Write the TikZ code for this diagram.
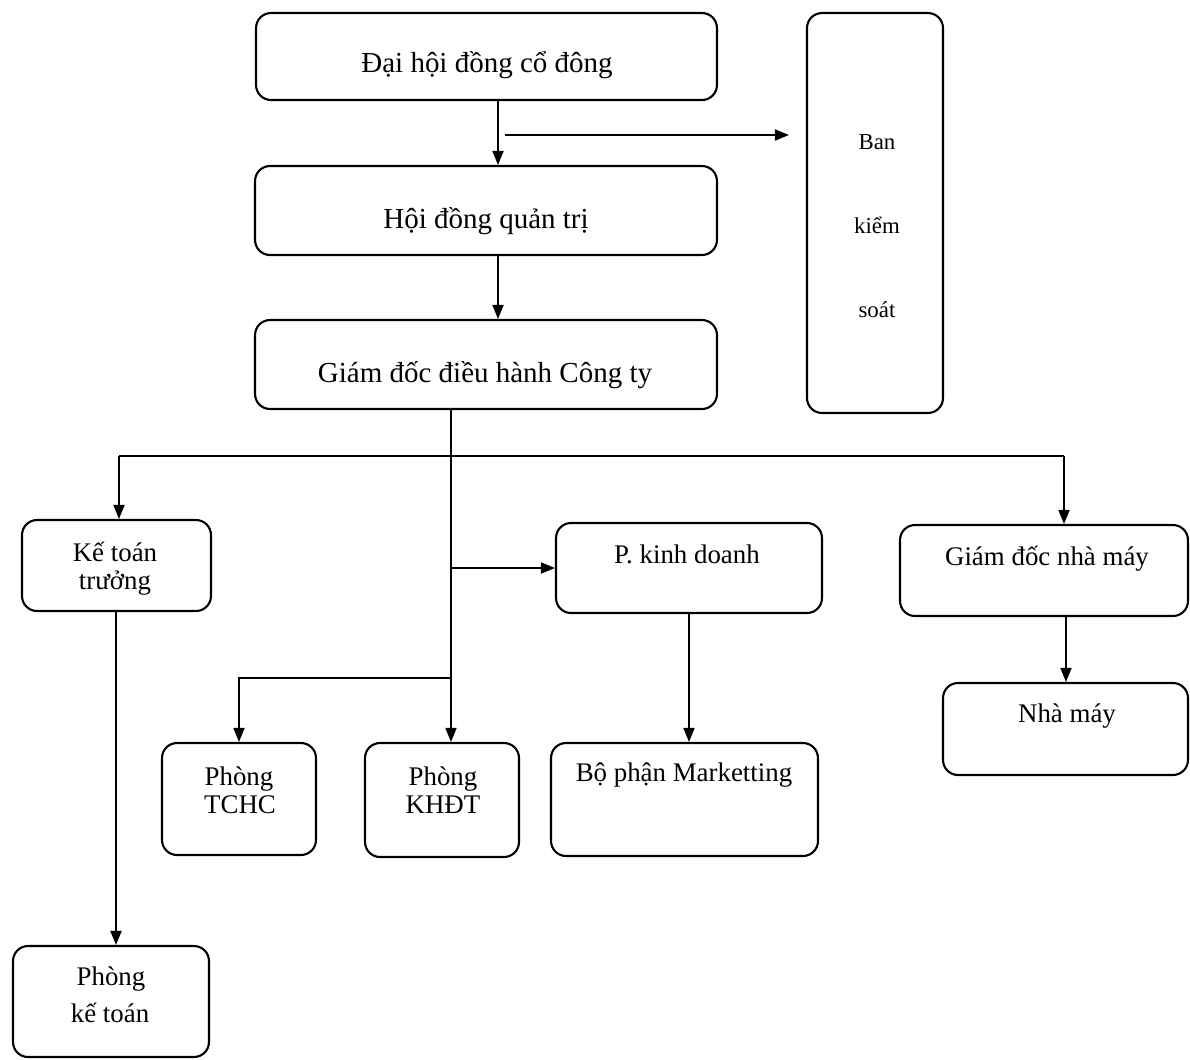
\documentclass[tikz,border=0pt]{standalone}
\usepackage{fontspec}
\setmainfont{Liberation Serif}
\usetikzlibrary{arrows.meta,calc}
\begin{document}
\begin{tikzpicture}[x=0.02cm,y=-0.02cm,
  box/.style={draw, line width=1.2pt, rounded corners=0.3cm, inner sep=0pt},
  arr/.style={line width=1pt, -{Triangle[length=0.28cm,width=0.22cm]}},
  ln/.style={line width=1pt},
  big/.style={anchor=base, inner sep=0pt, font=\fontsize{16.5}{19}\selectfont},
  mid/.style={anchor=base, inner sep=0pt, font=\fontsize{15.3}{18}\selectfont},
  sml/.style={anchor=base, inner sep=0pt, font=\fontsize{13}{15}\selectfont}]
\useasboundingbox (0,0) rectangle (1190,1059);

% boxes
\node[box, minimum width=9.22cm, minimum height=1.74cm] (dhcd) at (486.5,56.5) {};
\node[box, minimum width=9.24cm, minimum height=1.78cm] (hdqt) at (486,210.5) {};
\node[box, minimum width=9.24cm, minimum height=1.78cm] (gd) at (486,364.5) {};
\node[box, minimum width=2.72cm, minimum height=8.0cm] (bks) at (875,213) {};
\node[box, minimum width=3.78cm, minimum height=1.82cm] (ktt) at (116.5,565.5) {};
\node[box, minimum width=5.32cm, minimum height=1.8cm] (pkd) at (689,568) {};
\node[box, minimum width=5.76cm, minimum height=1.82cm] (gdnm) at (1044,570.5) {};
\node[box, minimum width=4.9cm, minimum height=1.84cm] (nm) at (1065.5,729) {};
\node[box, minimum width=3.08cm, minimum height=2.24cm] (tchc) at (239,799) {};
\node[box, minimum width=3.08cm, minimum height=2.28cm] (khdt) at (442,800) {};
\node[box, minimum width=5.34cm, minimum height=2.26cm] (mkt) at (684.5,799.5) {};
\node[box, minimum width=3.92cm, minimum height=2.22cm] (pkt) at (111,1001.5) {};

% texts
\node[big] (t1) at (487,72) {Đại hội đồng cổ đông};
\node[big] (t2) at (486,228) {Hội đồng quản trị};
\node[big] (t3) at (485,382) {Giám đốc điều hành Công ty};
\node[sml] (t4a) at (877,149) {Ban};
\node[sml] (t4b) at (877,233) {kiểm};
\node[sml] (t4c) at (877,317) {soát};
\node[mid] (t5a) at (115,561) {Kế toán};
\node[mid] (t5b) at (115,589) {trưởng};
\node[mid] (t6) at (687,563) {P. kinh doanh};
\node[mid] (t7) at (1047,565) {Giám đốc nhà máy};
\node[mid] (t8) at (1067,722) {Nhà máy};
\node[mid] (t9a) at (239,785) {Phòng};
\node[mid] (t9b) at (240,813) {TCHC};
\node[mid] (t10a) at (443,785) {Phòng};
\node[mid] (t10b) at (443,813) {KHĐT};
\node[mid] (t11) at (684,781) {Bộ phận Marketting};
\node[mid] (t12a) at (111,985) {Phòng};
\node[mid] (t12b) at (110,1022) {kế toán};

% helper coordinates
\coordinate (xa) at (498,0);
\coordinate (sb) at (505,135);
\coordinate (tr) at (451,0);
\coordinate (bL) at (119,456);
\coordinate (bR) at (1064,456);
\coordinate (hb) at (0,678);
\coordinate (xk) at (116,0);
\coordinate (xn) at (1066,0);

% connectors
\draw[arr] (dhcd.south -| xa) -- (hdqt.north -| xa);
\draw[arr, shorten >=0.34cm] (sb) -- (bks.west |- sb);
\draw[arr] (hdqt.south -| xa) -- (gd.north -| xa);
\draw[arr] (gd.south -| tr) -- (khdt.north -| tr);
\draw[ln] (bL) -- (bR);
\draw[arr] (bL) -- (bL |- ktt.north);
\draw[arr] (bR) -- (bR |- gdnm.north);
\draw[arr] (pkd.west -| tr) -- (pkd.west);
\draw[arr] (tr |- hb) -| (tchc.north);
\draw[arr] (ktt.south -| xk) -- (pkt.north -| xk);
\draw[arr] (pkd.south) -- (pkd.south |- mkt.north);
\draw[arr] (gdnm.south -| xn) -- (nm.north -| xn);
\end{tikzpicture}
\end{document}
